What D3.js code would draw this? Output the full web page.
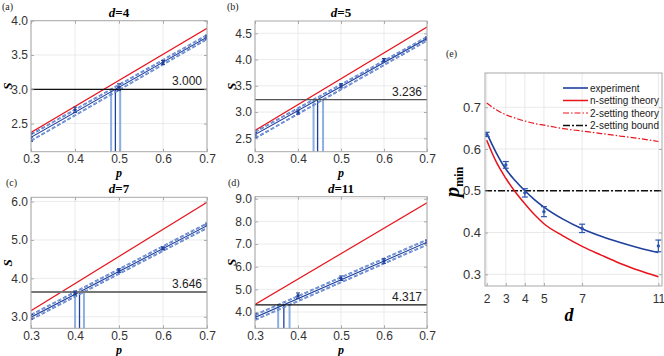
<!DOCTYPE html>
<html><head><meta charset="utf-8">
<script src="https://cdn.jsdelivr.net/npm/d3@7"></script>
<style>body{margin:0;background:#fff} svg{display:block}</style>
</head><body>
<svg id="c" width="664" height="356"></svg>
<script>
// ---------- data ----------
const pTicks = [0.3, 0.4, 0.5, 0.6, 0.7];
const pPoints = [0.3, 0.4, 0.5, 0.6, 0.7];
const pEnds = [0.3, 0.7];

// (a) d=4
const aS = [2.30, 2.70, 3.03, 3.39, 3.76];
const aErr = [0.06, 0.04, 0.05, 0.03, 0.03];
const aFit = [2.30, 3.76];
const aUpper = [2.34, 3.79];
const aLower = [2.25, 3.73];
const aRed = [2.37, 3.89];
const aBound = 3.000;
const aYTicks = [2.5, 3.0, 3.5, 4.0];
// (b) d=5
const bS = [2.56, 3.00, 3.50, 3.99, 4.40];
const bErr = [0.05, 0.04, 0.04, 0.03, 0.03];
const bFit = [2.57, 4.40];
const bUpper = [2.62, 4.43];
const bLower = [2.50, 4.36];
const bRed = [2.65, 4.62];
const bBound = 3.236;
const bYTicks = [2.5, 3.0, 3.5, 4.0, 4.5];
// (c) d=7
const cS = [3.00, 3.62, 4.20, 4.78, 5.40];
const cErr = [0.06, 0.05, 0.05, 0.04, 0.04];
const cFit = [2.99, 5.37];
const cUpper = [3.05, 5.43];
const cLower = [2.93, 5.31];
const cRed = [3.16, 5.98];
const cBound = 3.646;
const cYTicks = [3.0, 4.0, 5.0, 6.0];
// (d) d=11
const dS = [3.82, 4.72, 5.49, 6.25, 7.09];
const dErr = [0.10, 0.12, 0.10, 0.10, 0.08];
const dFit = [3.76, 7.08];
const dUpper = [3.87, 7.19];
const dLower = [3.65, 6.97];
const dRed = [4.33, 8.82];
const dBound = 4.317;
const dYTicks = [4, 5, 6, 7, 8, 9];

// (e) p_min vs d
const eDTicks = [2, 3, 4, 5, 7, 11];
const ePTicks = [0.3, 0.4, 0.5, 0.6, 0.7];
const expD = [2, 3, 4, 5, 7, 11];
const expP = [0.635, 0.562, 0.495, 0.450, 0.410, 0.368];
const expErr = [0.005, 0.008, 0.010, 0.012, 0.010, 0.014];
const curveD = [2, 2.5, 3, 3.5, 4, 4.5, 5, 6, 7, 8, 9, 10, 11];
const expFitP = [0.638, 0.591, 0.552, 0.524, 0.500, 0.479, 0.461, 0.432, 0.409, 0.391, 0.376, 0.363, 0.352];
const nSetP = [0.621, 0.569, 0.530, 0.497, 0.469, 0.443, 0.421, 0.392, 0.367, 0.346, 0.326, 0.309, 0.294];
const twoSetP = [0.710, 0.694, 0.682, 0.674, 0.667, 0.661, 0.657, 0.649, 0.643, 0.637, 0.631, 0.625, 0.618];
const twoBound = 0.5;
const legendLabels = ["experiment", "n-setting theory", "2-setting theory", "2-setting bound"];

// ---------- styles ----------
const BLUE = "#1f3f9c", LBLUE = "#8cafe2", RED = "#e8141c";
const SANS = "'Liberation Sans', Arial, sans-serif";
const SERIF = "'Liberation Serif', 'Times New Roman', serif";

const svg = d3.select("#c");
const fmt1 = d3.format(".1f");

function panel(cfg) {
  const g = svg.append("g");
  const x = d3.scaleLinear().domain([0.3, 0.7]).range([cfg.x0, cfg.x1]);
  const y = d3.scaleLinear().domain(cfg.yDom).range([cfg.y1, cfg.y0]);
  const id = "clip" + cfg.name;
  svg.append("clipPath").attr("id", id).append("rect")
    .attr("x", cfg.x0).attr("y", cfg.y0).attr("width", cfg.x1 - cfg.x0).attr("height", cfg.y1 - cfg.y0);

  // grid
  g.append("g").selectAll("line").data(pTicks).join("line")
    .attr("x1", d => x(d)).attr("x2", d => x(d)).attr("y1", cfg.y0).attr("y2", cfg.y1)
    .attr("stroke", "#e6e6e6").attr("stroke-width", 0.8);
  g.append("g").selectAll("line").data(cfg.yTicks).join("line")
    .attr("x1", cfg.x0).attr("x2", cfg.x1).attr("y1", d => y(d)).attr("y2", d => y(d))
    .attr("stroke", "#e6e6e6").attr("stroke-width", 0.8);

  const body = g.append("g").attr("clip-path", `url(#${id})`);
  const line = d3.line().x(d => x(d[0])).y(d => y(d[1]));
  const pairs = arr => pEnds.map((p, i) => [p, arr[i]]);

  // vertical p_min markers
  const crosses = [cfg.upper, cfg.fit, cfg.lower].map(l => d3.scaleLinear().domain(l).range(pEnds)(cfg.bound));
  body.append("g").selectAll("line").data(crosses).join("line")
    .attr("x1", d => x(d)).attr("x2", d => x(d))
    .attr("y1", cfg.y1).attr("y2", y(cfg.bound))
    .attr("stroke", (d, i) => i === 1 ? BLUE : LBLUE)
    .attr("stroke-width", (d, i) => i === 1 ? 1.3 : 2);

  // red theory line
  body.append("path").attr("d", line(pairs(cfg.red))).attr("fill", "none")
    .attr("stroke", RED).attr("stroke-width", 1.2);
  // dashed band
  [cfg.upper, cfg.lower].forEach(l => {
    body.append("path").attr("d", line(pairs(l))).attr("fill", "none")
      .attr("stroke", "#3d67c0").attr("stroke-width", 1.8).attr("stroke-dasharray", "4,2");
    body.append("path").attr("d", line(pairs(l))).attr("fill", "none")
      .attr("stroke", "#c3d4f2").attr("stroke-width", 0.6).attr("stroke-dasharray", "4,2");
  });
  // fit
  body.append("path").attr("d", line(pairs(cfg.fit))).attr("fill", "none")
    .attr("stroke", BLUE).attr("stroke-width", 1.1);

  // bound line
  body.append("line").attr("x1", cfg.x0).attr("x2", cfg.x1)
    .attr("y1", y(cfg.bound)).attr("y2", y(cfg.bound))
    .attr("stroke", cfg.boundColor).attr("stroke-width", cfg.boundWidth);
  g.append("text").attr("x", cfg.x1 - 5).attr("y", y(cfg.bound) - 4)
    .attr("text-anchor", "end").attr("font-family", SANS).attr("font-size", 12).attr("fill", "#222")
    .text(d3.format(".3f")(cfg.bound));

  // error bars + points
  const eb = body.append("g").attr("stroke", BLUE).attr("stroke-width", 1);
  pPoints.forEach((p, i) => {
    const v = cfg.S[i], e = cfg.err[i];
    eb.append("line").attr("x1", x(p)).attr("x2", x(p)).attr("y1", y(v - e)).attr("y2", y(v + e));
    eb.append("line").attr("x1", x(p) - 2).attr("x2", x(p) + 2).attr("y1", y(v - e)).attr("y2", y(v - e));
    eb.append("line").attr("x1", x(p) - 2).attr("x2", x(p) + 2).attr("y1", y(v + e)).attr("y2", y(v + e));
  });
  body.append("g").selectAll("circle").data(pPoints).join("circle")
    .attr("cx", d => x(d)).attr("cy", (d, i) => y(cfg.S[i])).attr("r", 1.6).attr("fill", BLUE);

  // frame
  g.append("rect").attr("x", cfg.x0).attr("y", cfg.y0).attr("width", cfg.x1 - cfg.x0).attr("height", cfg.y1 - cfg.y0)
    .attr("fill", "none").attr("stroke", "#a8a8a8").attr("stroke-width", 1);

  // axes
  const ax = g.append("g").attr("transform", `translate(0,${cfg.y1})`)
    .call(d3.axisBottom(x).tickValues(pTicks).tickFormat(fmt1).tickSizeInner(-3).tickSizeOuter(0).tickPadding(3));
  const ay = g.append("g").attr("transform", `translate(${cfg.x0},0)`)
    .call(d3.axisLeft(y).tickValues(cfg.yTicks).tickFormat(fmt1).tickSizeInner(-3).tickSizeOuter(0).tickPadding(3));
  const ar = g.append("g").attr("transform", `translate(${cfg.x1},0)`)
    .call(d3.axisRight(y).tickValues(cfg.yTicks).tickFormat("").tickSizeInner(-3).tickSizeOuter(0));
  const at = g.append("g").attr("transform", `translate(0,${cfg.y0})`)
    .call(d3.axisTop(x).tickValues(pTicks).tickFormat("").tickSizeInner(-3).tickSizeOuter(0));
  [ax, ay, ar, at].forEach(a => {
    a.select(".domain").remove();
    a.selectAll(".tick line").attr("stroke", "#aaa");
    a.selectAll("text").attr("font-family", SANS).attr("font-size", 12).attr("fill", "#333");
  });

  // labels
  const cx = (cfg.x0 + cfg.x1) / 2;
  const t = g.append("text").attr("x", cx).attr("y", cfg.y0 - 4).attr("text-anchor", "middle")
    .attr("font-family", SERIF).attr("font-size", 13).attr("font-weight", "bold");
  t.append("tspan").attr("font-style", "italic").text("d");
  t.append("tspan").text("=" + cfg.d);
  g.append("text").attr("x", cx).attr("y", cfg.y1 + 25.5).attr("text-anchor", "middle")
    .attr("font-family", SERIF).attr("font-size", 12).attr("font-style", "italic").attr("font-weight", "bold").text("p");
  g.append("text").attr("transform", `translate(${cfg.x0 - 19},${(cfg.y0 + cfg.y1) / 2}) rotate(-90)`)
    .attr("text-anchor", "middle").attr("font-family", SERIF).attr("font-size", 13)
    .attr("font-style", "italic").attr("font-weight", "bold").text("S");
  g.append("text").attr("x", cfg.lx).attr("y", cfg.ly).attr("font-family", SERIF).attr("font-size", 10)
    .attr("fill", "#222").text(cfg.label);
}

panel({name: "a", d: 4, label: "(a)", lx: 2, ly: 10, x0: 31, x1: 207, y0: 20.7, y1: 151.7, yDom: [2.09, 4.0],
  S: aS, err: aErr, fit: aFit, upper: aUpper, lower: aLower, red: aRed, bound: aBound, yTicks: aYTicks,
  boundColor: "#111", boundWidth: 1.2});
panel({name: "b", d: 5, label: "(b)", lx: 227, ly: 10, x0: 255, x1: 427, y0: 21, y1: 151.7, yDom: [2.245, 4.734],
  S: bS, err: bErr, fit: bFit, upper: bUpper, lower: bLower, red: bRed, bound: bBound, yTicks: bYTicks,
  boundColor: "#555", boundWidth: 1.3});
panel({name: "c", d: 7, label: "(c)", lx: 6, ly: 186, x0: 31, x1: 207, y0: 197.3, y1: 328.3, yDom: [2.70, 6.11],
  S: cS, err: cErr, fit: cFit, upper: cUpper, lower: cLower, red: cRed, bound: cBound, yTicks: cYTicks,
  boundColor: "#777", boundWidth: 2});
panel({name: "d", d: 11, label: "(d)", lx: 228, ly: 186, x0: 255, x1: 427, y0: 196.7, y1: 328.3, yDom: [3.28, 9.09],
  S: dS, err: dErr, fit: dFit, upper: dUpper, lower: dLower, red: dRed, bound: dBound, yTicks: dYTicks,
  boundColor: "#111", boundWidth: 1.2});

// ---------- panel (e) ----------
(function () {
  const X0 = 485, X1 = 662, Y0 = 73, Y1 = 286;
  const g = svg.append("g");
  const x = d3.scaleLinear().domain([1.91, 11.19]).range([X0, X1]);
  const y = d3.scaleLinear().domain([0.272, 0.782]).range([Y1, Y0]);
  svg.append("clipPath").attr("id", "clipE").append("rect")
    .attr("x", X0).attr("y", Y0).attr("width", X1 - X0).attr("height", Y1 - Y0);

  g.append("g").selectAll("line").data(eDTicks).join("line")
    .attr("x1", d => x(d)).attr("x2", d => x(d)).attr("y1", Y0).attr("y2", Y1)
    .attr("stroke", "#e3e3e3").attr("stroke-width", 0.8);
  g.append("g").selectAll("line").data(ePTicks).join("line")
    .attr("x1", X0).attr("x2", X1).attr("y1", d => y(d)).attr("y2", d => y(d))
    .attr("stroke", "#e3e3e3").attr("stroke-width", 0.8);

  const body = g.append("g").attr("clip-path", "url(#clipE)");
  const line = d3.line().x(d => x(d[0])).y(d => y(d[1])).curve(d3.curveMonotoneX);
  const zip = arr => curveD.map((d, i) => [d, arr[i]]);

  body.append("line").attr("x1", X0).attr("x2", X1).attr("y1", y(twoBound)).attr("y2", y(twoBound))
    .attr("stroke", "#111").attr("stroke-width", 1.5).attr("stroke-dasharray", "7,2,2,2");
  body.append("path").attr("d", line(zip(twoSetP))).attr("fill", "none")
    .attr("stroke", RED).attr("stroke-width", 1.2).attr("stroke-dasharray", "6,2,1.5,2");
  body.append("path").attr("d", line(zip(nSetP))).attr("fill", "none")
    .attr("stroke", RED).attr("stroke-width", 1.5);
  body.append("path").attr("d", line(zip(expFitP))).attr("fill", "none")
    .attr("stroke", BLUE).attr("stroke-width", 1.6);

  const eb = body.append("g").attr("stroke", "#2c55b0").attr("stroke-width", 1.2);
  expD.forEach((d, i) => {
    const v = expP[i], e = expErr[i];
    eb.append("line").attr("x1", x(d)).attr("x2", x(d)).attr("y1", y(v - e)).attr("y2", y(v + e));
    eb.append("line").attr("x1", x(d) - 3).attr("x2", x(d) + 3).attr("y1", y(v - e)).attr("y2", y(v - e));
    eb.append("line").attr("x1", x(d) - 3).attr("x2", x(d) + 3).attr("y1", y(v + e)).attr("y2", y(v + e));
  });
  body.append("g").selectAll("circle").data(expD).join("circle")
    .attr("cx", d => x(d)).attr("cy", (d, i) => y(expP[i])).attr("r", 1.7).attr("fill", "#2c55b0");

  g.append("rect").attr("x", X0).attr("y", Y0).attr("width", X1 - X0).attr("height", Y1 - Y0)
    .attr("fill", "none").attr("stroke", "#a8a8a8").attr("stroke-width", 1);

  const ax = g.append("g").attr("transform", `translate(0,${Y1})`)
    .call(d3.axisBottom(x).tickValues(eDTicks).tickFormat(d3.format("d")).tickSizeInner(-3).tickSizeOuter(0).tickPadding(8));
  const ay = g.append("g").attr("transform", `translate(${X0},0)`)
    .call(d3.axisLeft(y).tickValues(ePTicks).tickFormat(fmt1).tickSizeInner(-3).tickSizeOuter(0).tickPadding(4));
  const ar = g.append("g").attr("transform", `translate(${X1},0)`)
    .call(d3.axisRight(y).tickValues(ePTicks).tickFormat("").tickSizeInner(-3).tickSizeOuter(0));
  [ax, ay, ar].forEach(a => {
    a.select(".domain").remove();
    a.selectAll(".tick line").attr("stroke", "#aaa");
    a.selectAll("text").attr("font-family", SANS).attr("fill", "#333");
  });
  ax.selectAll("text").attr("font-size", 12);
  ay.selectAll("text").attr("font-size", 13);

  // legend
  const styles = [
    {c: BLUE, w: 1.6, dash: null},
    {c: RED, w: 1.5, dash: null},
    {c: RED, w: 1.2, dash: "6,2,1.5,2"},
    {c: "#111", w: 1.5, dash: "7,2,2,2"}
  ];
  const lg = g.append("g");
  legendLabels.forEach((lab, i) => {
    const yy = 88 + i * 12.5;
    lg.append("line").attr("x1", 563).attr("x2", 588).attr("y1", yy).attr("y2", yy)
      .attr("stroke", styles[i].c).attr("stroke-width", styles[i].w).attr("stroke-dasharray", styles[i].dash);
    lg.append("text").attr("x", 590).attr("y", yy + 3.5).attr("font-family", SANS).attr("font-size", 10)
      .attr("fill", "#222").text(lab);
  });

  g.append("text").attr("x", 569).attr("y", 321).attr("text-anchor", "middle").attr("font-family", SERIF)
    .attr("font-size", 18).attr("font-style", "italic").attr("font-weight", "bold").text("d");
  const yl = g.append("text").attr("transform", "translate(459,182) rotate(-90)").attr("text-anchor", "middle")
    .attr("font-family", SERIF).attr("font-weight", "bold");
  yl.append("tspan").attr("font-size", 21).attr("font-style", "italic").text("p");
  yl.append("tspan").attr("font-size", 12).attr("dy", 4).text("min");
  g.append("text").attr("x", 446).attr("y", 57).attr("font-family", SERIF).attr("font-size", 10)
    .attr("fill", "#222").text("(e)");
})();
</script>
</body></html>
